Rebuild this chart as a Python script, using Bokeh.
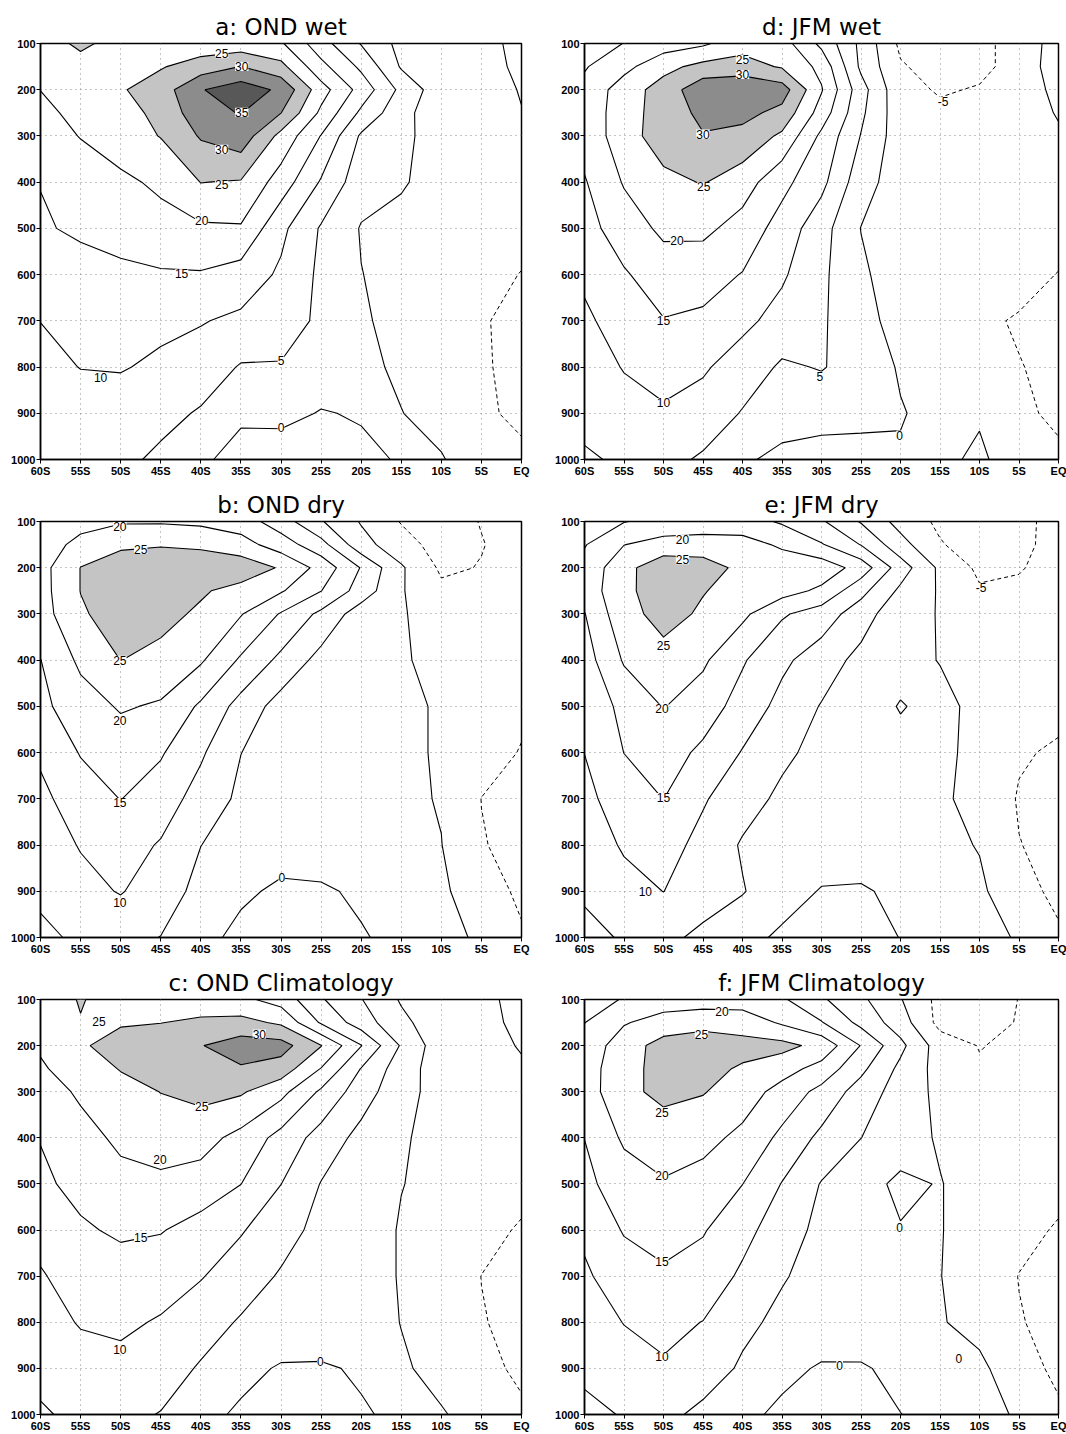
import numpy as np
from bokeh.plotting import figure
from bokeh.layouts import column, row
from bokeh.models import Range1d, FixedTicker, ColumnDataSource, LabelSet
from bokeh.core.properties import value
from bokeh.embed import file_html
from bokeh.resources import INLINE

# ---------------- data ----------------
lats = [-60, -55, -50, -45, -40, -35, -30, -25, -20, -15, -10, -5, 0]
pres = [100, 150, 200, 250, 300, 400, 500, 600, 700, 800, 900, 1000]
lat_ticks = [-60, -55, -50, -45, -40, -35, -30, -25, -20, -15, -10, -5, 0]
lat_tick_labels = ["60S", "55S", "50S", "45S", "40S", "35S", "30S", "25S", "20S", "15S", "10S", "5S", "EQ"]
pres_ticks = [100, 200, 300, 400, 500, 600, 700, 800, 900, 1000]

line_levels = [0, 5, 10, 15, 20, 25, 30, 35]
neg_levels = [-15, -10, -5]
shade_levels = [25, 30, 35, 60]

# zonal wind (m/s), rows = pressure levels, columns = latitudes
u_ond_wet = [
    [23, 25.8, 23.5, 23.5, 22, 22, 20.6, 12, 4.7, -1.5, -2.5, -2.5, 2.2],
    [22, 23.5, 24.2, 24.6, 27.3, 30.1, 26.5, 16.5, 9, -0.5, -2.5, -1.8, 1],
    [20.05, 22.2, 24.5, 27.6, 34.7, 37.7, 34.05, 22.1, 13.1, 3.7, -3, -1.5, 0.2],
    [19, 21.1, 24, 25.7, 33.7, 35.2, 30.1, 19, 9, 1.5, -3, -1.5, -0.1],
    [17.6, 20.2, 22.5, 25.2, 30.5, 33, 23.5, 14.8, 4.3, 1.3, -2.5, -1.5, -1],
    [15.1, 17.2, 19, 20.9, 25.1, 24.6, 17.7, 9.5, 2, 0.5, -2, -1.5, -1.8],
    [14.6, 15.6, 17, 18.3, 19.2, 19.5, 11.2, 4.5, -0.3, -1.5, -2, -2.5, -3],
    [12, 13.6, 13.9, 14.5, 14.6, 12.9, 9.2, 4, 0.1, -1.5, -2, -3, -5.2],
    [10.05, 11.3, 11.6, 11, 10.3, 9, 7, 4.2, 0.6, -1.5, -2.5, -4.7, -6],
    [8.7, 10.1, 10.3, 9.2, 7.7, 4.6, 4.7, 2, 1, -0.7, -2.5, -4.6, -6],
    [7.5, 8, 7.9, 6.5, 4.5, 0.8, 1.0, -0.2, 0.3, 0.1, -1.5, -4.6, -5.5],
    [7, 7, 6.2, 4, 0.8, -1.7, -2, -1.5, -0.8, 0.3, 0.3, -2.5, -4.5],
]

u_jfm_wet = [
    [12.5, 15.1, 17.5, 19.2, 23, 22.2, 13.8, 3.8, -6, -6.5, -6, -3.5, 2.5],
    [14.6, 18.5, 23.5, 26.5, 27, 24.5, 18.6, 4, -4.5, -7, -6, -3.5, 3],
    [16.3, 22.5, 27.1, 33.4, 34.5, 32.4, 20.4, 7, -3.7, -5.4, -4.7, -2.5, 1.2],
    [17.5, 22.1, 27.9, 30.9, 31.5, 28.5, 17.8, 6, -3.1, -4.2, -4, -2, 0.3],
    [17, 22.5, 27.9, 29.8, 28.5, 24.1, 13.9, 4.8, -2.7, -3.5, -3.5, -2, -0.5],
    [14.6, 20.4, 23.5, 25.3, 22.4, 16.4, 11.4, 2, -2.5, -3, -2.8, -2.2, -1.5],
    [13.2, 17.5, 21, 21.2, 18, 13, 6.9, -0.1, -2.5, -3, -3, -3, -3.8],
    [10.8, 14.5, 17.5, 16.8, 14.8, 10.7, 6, 0.8, -2.5, -3, -3.5, -4, -5.1],
    [9.2, 12, 14.8, 14.2, 11.2, 8.2, 5.6, 1.8, -1.95, -3, -4.5, -5.25, -6],
    [8.2, 10.2, 11.5, 10.6, 7.7, 4.3, 5.3, 3, -0.5, -2.5, -4, -4.9, -5.6],
    [6.6, 8.6, 9.5, 8, 4.67, 2.5, 2, 1.5, 0.3, -1.5, -0.5, -4.2, -5.8],
    [4.3, 5.8, 6.6, 4.3, 0.8, -1.4, -2.2, -2, -0.5, -1, 0.8, -2.5, -4.2],
]

u_ond_dry = [
    [16, 18, 19.5, 19.5, 19, 17.5, 12.4, 5.4, -0.4, -5.3, -7, -4.8, -3],
    [17, 21.7, 24, 24.6, 24, 22, 17.5, 11.8, 1.8, -3, -7, -5.2, -3.2],
    [18.2, 25.1, 28, 28.5, 28.5, 28, 24.5, 18.3, 9.7, 0.6, -5.8, -4.8, -3],
    [18.1, 25.1, 27.5, 27.2, 25.6, 23.3, 20.5, 15.1, 7.8, 0.4, -4, -4.5, -3],
    [17.8, 24.4, 27.2, 26.5, 24.2, 20.3, 14.6, 8.85, 2.4, 0.6, -3.2, -4, -3],
    [14.9, 21, 25.05, 23.6, 20.6, 14.3, 8.8, 3.3, 1.5, 0.8, -2.2, -3.5, -3.2],
    [13.8, 17.8, 20.5, 19.4, 14.2, 8.2, 2.9, 2, 1.5, 1, -0.5, -3, -4.3],
    [10.8, 15.3, 17.3, 15.5, 10.7, 5.05, 3, 2, 1.5, 1, -0.5, -3.5, -5.2],
    [8.8, 12.6, 15.1, 12.5, 8, 4, 3, 2.5, 1.5, 1, -0.3, -5.05, -6],
    [7.5, 10.3, 12, 9.6, 5.05, 3, 2, 2, 1.8, 1.3, 0.1, -4.8, -6],
    [5.9, 8.5, 10.3, 7.5, 3.5, 0.8, -0.8, -0.5, 0.6, 1, 0.9, -3, -5.8],
    [4, 5.8, 6.5, 4.9, 1.4, -1.2, -2, -1.5, -0.3, 1, 1, -0.5, -4.5],
]

u_jfm_dry = [
    [12.5, 14.8, 16.5, 17.5, 17, 14.4, 10.6, 4.6, -1.8, -6, -7, -5.4, -4.5],
    [14.7, 19.9, 22, 22, 22, 19.2, 15.4, 9.8, 1.8, -4.6, -7.5, -5.5, -4.3],
    [16.5, 23.5, 28.2, 27.5, 23.6, 23, 23, 18, 7.5, -1, -6, -5.2, -4],
    [16.8, 24.1, 27, 25.2, 23.5, 22, 19, 11.5, 4, -0.5, -4.5, -4.5, -3.5],
    [14.8, 23.5, 26.5, 24.4, 21.1, 15.6, 12.6, 7.4, 1.4, -0.2, -3.5, -4, -3],
    [12.8, 20.5, 23.5, 20.8, 15.5, 11, 7.5, 3.5, 1.8, -0.2, -2.5, -3.5, -3],
    [11, 16.5, 20.2, 17.5, 13, 8.5, 4.7, 2.5, -0.3, 1.5, -1.5, -3.5, -4],
    [10.05, 15.05, 17.2, 14, 9.7, 6, 3.5, 2.5, 1.5, 1.2, -1.5, -4.6, -5.5],
    [8.7, 12.5, 15.05, 10.5, 7, 4, 3, 2.5, 1.5, 1, -2, -5.3, -6],
    [7.5, 10.5, 12, 8.5, 4.5, 3, 2.5, 2.5, 2, 1.5, -0.3, -4.9, -6],
    [5.6, 8.5, 10.05, 7.5, 5.3, 2, -0.3, -0.5, 1, 1.2, 1, -3.8, -5.8],
    [3.8, 5.4, 6.3, 3.8, 1.5, -0.8, -2, -1.8, 0.1, 1, 1.5, -0.4, -4.5],
]

u_ond_clim = [
    [22.5, 25.3, 23, 22.5, 22.5, 21.2, 18, 10.5, 5.2, -0.5, -3, -2, 2.5],
    [21.5, 24.8, 24.6, 24.9, 25.8, 26.5, 24.2, 14.4, 7.5, 1.2, -3, -1.5, 1.2],
    [20.5, 24.5, 26.6, 28, 29.8, 32.5, 32, 25.2, 15.2, 4.5, -3, -1.5, 0.3],
    [19.5, 22, 25.3, 27, 28.5, 29.5, 27.8, 19.8, 9.8, 2.3, -2.5, -1.5, -0.5],
    [17.5, 20.8, 23, 25.1, 26.5, 25.6, 21.5, 14.2, 7.3, 1.8, -2, -1.5, -1],
    [15.2, 18.2, 21, 22.2, 21.8, 18.5, 13.3, 8, 3.5, 0.5, -1.5, -1.5, -1.5],
    [14, 16.5, 18.5, 19, 18, 15.05, 10.05, 4.8, 2.5, 0.1, -1, -2.5, -3.5],
    [11.5, 14.3, 15.8, 15.3, 13, 10.4, 7, 3.5, 2, -0.3, -1, -3.5, -5.5],
    [9.6, 12, 12.8, 12, 10.3, 7.5, 4.5, 3, 2, -0.3, -1.5, -5.05, -6],
    [8.3, 10.3, 10.8, 9.6, 7.2, 4.5, 3.5, 2.8, 2, -0.1, -1.8, -4.8, -6],
    [6.2, 8.3, 8.8, 7.3, 4.5, 1.5, -0.5, -0.5, 0.5, 0.5, -1.2, -3.8, -5.8],
    [4.5, 6, 6.2, 4.8, 1.5, -0.8, -2, -1.5, -0.4, 0.8, 0.3, -1.5, -4.3],
]

u_jfm_clim = [
    [13, 15.3, 17.5, 17.5, 17.5, 15.7, 10.7, 6, 0.3, -6.5, -7.5, -4.9, -3.5],
    [14.9, 19.6, 22, 23.5, 23, 19.3, 15.3, 8.6, 2.4, -6.5, -7.5, -4.6, -3.5],
    [17, 22.5, 27, 27.5, 26.5, 26.5, 23.5, 14.8, 6.3, -2.5, -5.2, -4, -3],
    [17.5, 23.5, 26.5, 26.3, 24.5, 22, 18.2, 11.2, 3.8, -1.8, -4.5, -3.8, -2.8],
    [17.3, 24, 26, 25.3, 22.5, 18.2, 13.5, 7.8, 2.8, -1.2, -4, -3.5, -2.5],
    [15.05, 20.8, 23, 21.5, 18.8, 13.8, 8.8, 5.05, 2, -0.5, -3, -3, -2.5],
    [13.8, 17.5, 19.5, 18.2, 15.05, 9.8, 4.7, 1.5, -0.8, 0.2, -2, -3, -3.8],
    [10.9, 15.4, 17, 15.4, 11.5, 7.5, 3.6, 2.2, 0.2, 0.2, -2, -3.8, -5.4],
    [9.3, 12.5, 14.2, 12.8, 9.2, 5.4, 3.2, 2.5, 1.5, 0.1, -2.2, -5.1, -6],
    [8.2, 10.1, 11.2, 9.9, 6.2, 3.8, 3, 2.5, 1.8, 0.4, -1.8, -4.8, -6],
    [6, 8.5, 9.5, 7.5, 4.3, 1.3, -0.5, -0.4, 1, 1.2, 1.2, -3.5, -5.8],
    [3.8, 5.3, 6.3, 3.8, 1.2, -1, -2, -1.5, -0.05, 1, 1.5, -0.5, -4.4],
]

# contour labels (latitude, pressure, text)
labels_a = [(-37.4, 122, "25"), (-34.9, 150, "30"), (-34.9, 249, "35"), (-37.4, 329, "30"),
            (-37.4, 406, "25"), (-39.9, 482, "20"), (-42.4, 598, "15"), (-52.5, 823, "10"),
            (-30.0, 786, "5"), (-30.0, 931, "0")]
labels_d = [(-40.0, 134, "25"), (-40.0, 167, "30"), (-45.0, 296, "30"), (-44.9, 410, "25"),
            (-48.3, 527, "20"), (-50.0, 699, "15"), (-50.0, 877, "10"), (-30.2, 820, "5"),
            (-20.1, 947, "0"), (-14.6, 225, "-5")]
labels_b = [(-50.1, 111, "20"), (-47.5, 160, "25"), (-50.1, 400, "25"), (-50.1, 531, "20"),
            (-50.1, 708, "15"), (-50.1, 925, "10"), (-29.9, 871, "0")]
labels_e = [(-47.6, 138, "20"), (-47.6, 183, "25"), (-50.0, 369, "25"), (-50.2, 504, "20"),
            (-50.0, 697, "15"), (-52.3, 900, "10"), (-9.8, 243, "-5")]
labels_c = [(-52.7, 147, "25"), (-32.7, 175, "30"), (-39.9, 333, "25"), (-45.1, 448, "20"),
            (-47.5, 617, "15"), (-50.1, 858, "10"), (-25.1, 884, "0")]
labels_f = [(-42.6, 127, "20"), (-45.2, 176, "25"), (-50.2, 344, "25"), (-50.2, 481, "20"),
            (-50.2, 668, "15"), (-50.2, 875, "10"), (-20.1, 594, "0"), (-12.6, 878, "0"),
            (-27.7, 893, "0")]

titles = ["a: OND wet", "d: JFM wet", "b: OND dry", "e: JFM dry", "c: OND Climatology", "f: JFM Climatology"]

# ---------------- styling ----------------
TITLE_FONT = "DejaVu Sans"
TICK_FONT = "Liberation Sans"
shade_colors = ["#c4c4c4", "#8c8c8c", "#585858"]


def make_panel(title, u, labels, width, height, bl, br, bt, bb):
    p = figure(width=width, height=height, title=title,
               x_range=Range1d(-60, 0), y_range=Range1d(1000, 100),
               output_backend="svg", toolbar_location=None,
               min_border_left=bl, min_border_right=br,
               min_border_top=bt, min_border_bottom=bb)
    x = np.array(lats, dtype=float)
    y = np.array(pres, dtype=float)
    z = np.array(u, dtype=float)

    p.contour(x, y, z, levels=shade_levels, fill_color=shade_colors, line_color=None)
    p.contour(x, y, z, levels=line_levels, line_color="black", line_width=1.1, fill_color=None)
    p.contour(x, y, z, levels=neg_levels, line_color="black", line_width=1.0,
              line_dash="4 3", fill_color=None)

    src = ColumnDataSource(dict(x=[l[0] for l in labels], y=[l[1] for l in labels],
                                text=[l[2] for l in labels]))
    p.add_layout(LabelSet(x="x", y="y", text="text", source=src,
                          text_align="center", text_baseline="middle",
                          text_font=value(TICK_FONT), text_font_size="12px",
                          text_color="black", background_fill_color="white"))

    p.title.text_font = TITLE_FONT
    p.title.text_font_size = "23px"
    p.title.text_font_style = "normal"
    p.title.align = "center"
    p.title.standoff = 8
    p.title.text_color = "black"

    p.xaxis.ticker = FixedTicker(ticks=lat_ticks)
    p.xaxis.major_label_overrides = {t: s for t, s in zip(lat_ticks, lat_tick_labels)}
    p.yaxis.ticker = FixedTicker(ticks=pres_ticks)
    p.xgrid.ticker = FixedTicker(ticks=lat_ticks)
    p.ygrid.ticker = FixedTicker(ticks=pres_ticks)
    for g in (p.xgrid, p.ygrid):
        g.grid_line_color = "#8a8a8a"
        g.grid_line_dash = "1 4"
        g.grid_line_width = 1

    for ax in (p.xaxis, p.yaxis):
        ax.major_label_text_font = TICK_FONT
        ax.major_label_text_font_size = "11px"
        ax.major_label_text_font_style = "bold"
        ax.major_label_text_color = "black"
        ax.major_tick_in = 0
        ax.major_tick_out = 4
        ax.minor_tick_line_color = None
        ax.axis_line_width = 1.5
        ax.axis_line_color = "black"
        ax.major_tick_line_color = "black"
        ax.major_label_standoff = 1

    p.outline_line_color = "black"
    p.outline_line_width = 1.5
    p.background_fill_color = "white"
    p.border_fill_color = "white"
    return p


fields = [u_ond_wet, u_jfm_wet, u_ond_dry, u_jfm_dry, u_ond_clim, u_jfm_clim]
labsets = [labels_a, labels_d, labels_b, labels_e, labels_c, labels_f]

col_geom = [(548, 40, 27), (518, 36, 8)]                      # width, left border, right border
row_geom = [(484, 43, 25), (478, 37, 25), (472, 37, 19)]      # height, top border, bottom border

rows = []
k = 0
for r in range(3):
    figs = []
    for c in range(2):
        w, bl, br = col_geom[c]
        h, bt, bb = row_geom[r]
        figs.append(make_panel(titles[k], fields[k], labsets[k], w, h, bl, br, bt, bb))
        k += 1
    rows.append(row(*figs))

layout = column(*rows)

open("out.html", "w").write(file_html(layout, INLINE, "Zonal wind"))
